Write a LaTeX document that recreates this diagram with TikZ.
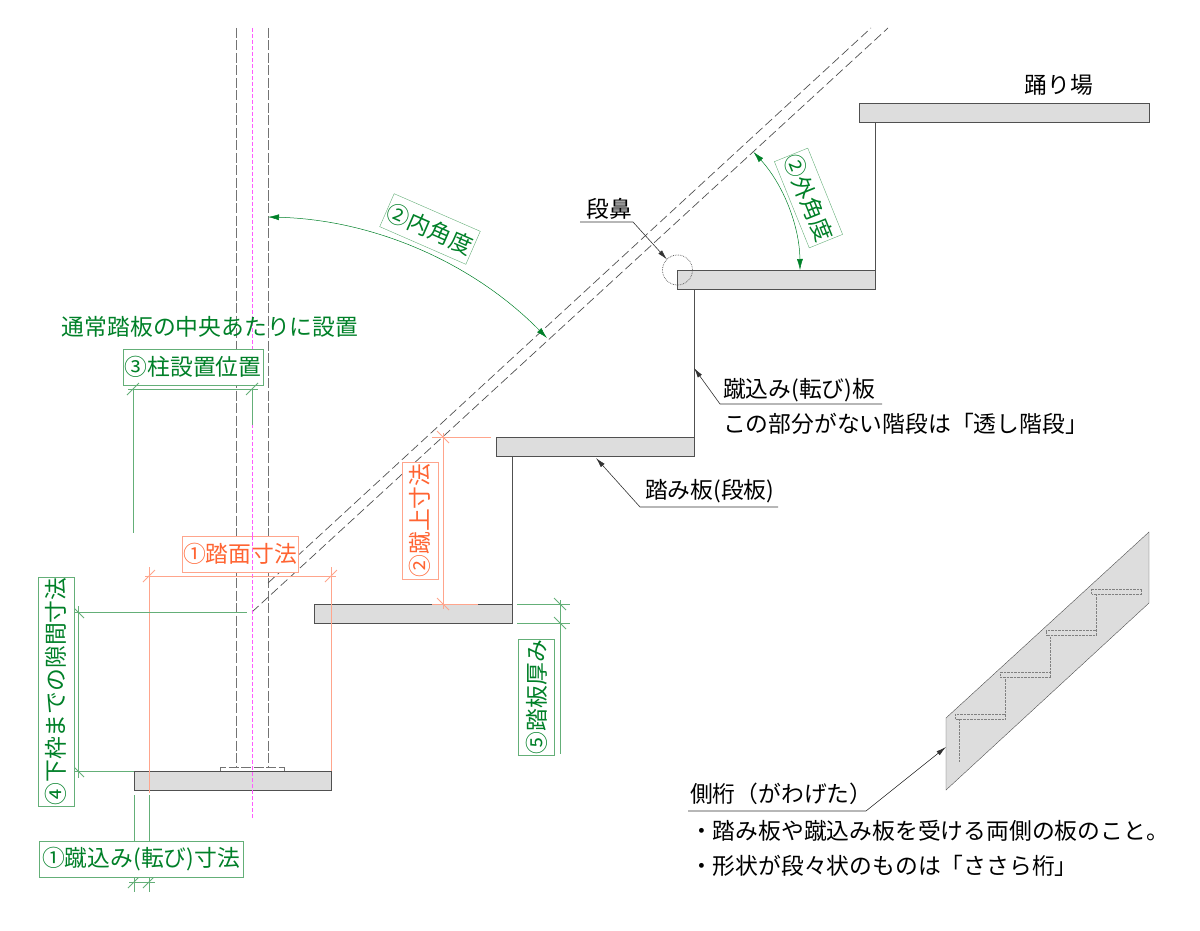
\documentclass[tikz,border=0pt]{standalone}
\usepackage{fontspec}
\setmainfont{Noto Sans CJK JP}
\usetikzlibrary{positioning}
\usetikzlibrary{arrows.meta}

\definecolor{dimgreen}{RGB}{0,128,40}
\definecolor{dimgreenln}{RGB}{100,175,120}
\definecolor{dimorange}{RGB}{255,100,50}
\definecolor{dimorangeln}{RGB}{255,165,140}
\definecolor{stairgray}{RGB}{80,80,80}
\definecolor{treadfill}{RGB}{221,221,221}
\definecolor{centerpink}{RGB}{255,90,255}

\newcommand{\slashh}[2]{\draw[#1] (#2) ++(-6,6) -- ++(12,-12);}
\newcommand{\slashv}[2]{\draw[#1] (#2) ++(-6,-6) -- ++(12,12);}

\tikzset{
	tread/.style={draw=stairgray, fill=treadfill, minimum height=19pt, anchor=north west},
	riser/.style={draw=stairgray, line width=.8pt},
	postline/.style={draw=gray!90!black, dash pattern=on 10pt off 2.5pt},
	slopeline/.style={draw=stairgray, dash pattern=on 9pt off 4pt, line width=.7pt},
	centerline/.style={draw=centerpink, dash pattern=on 4pt off 2pt},
	leader/.style={draw=black!80, line width=.6pt, -{Latex[length=10pt,width=5pt]}},
	label/.style={font=\fontsize{22.8}{24}\selectfont, inner sep=0pt},
	greenlabel/.style={label, text=dimgreen},
	greenbox/.style={greenlabel, draw=dimgreenln, fill=white, minimum height=36pt},
	orangebox/.style={label, text=dimorange, draw=dimorangeln, fill=white, minimum height=36pt},
	greendim/.style={draw=dimgreenln, line width=.9pt},
	orangedim/.style={draw=dimorangeln, line width=1pt},
	anglearrow/.style={draw=dimgreen, line width=.5pt, {Latex[length=11pt,width=6pt]}-{Latex[length=11pt,width=6pt]}},
}

\begin{document}
\begin{tikzpicture}
[   x=1pt,
    y=-1pt,
    inner sep=0pt,
    outer sep=0pt
]
\useasboundingbox (0,0) rectangle (1200,931);

% post and slope
\draw[postline] (236,28) -- (236,767);
\draw[postline] (268,28) -- (268,767);
\draw[postline] (220,771) -- (220,767) -- (284,767) -- (284,771);
\draw[slopeline] (252,612) -- (888,28);
\draw[slopeline] (268,583) -- (871,28);

% stairs
\node (tread1) [tread, minimum width=197pt] at (134,771) {};
\node (tread2) [tread, minimum width=198pt] at (314,604) {};
\node (tread3) [tread, minimum width=198pt] at (496,437) {};
\node (tread4) [tread, minimum width=198pt] at (677,270) {};
\node (landing) [tread, minimum width=290pt] at (859,103) {};
\draw[riser] (tread1.north east) -- (tread1.north east |- tread2.south);
\draw[riser] (tread2.north east) -- (tread2.north east |- tread3.south);
\draw[riser] (tread3.north east) -- (tread3.north east |- tread4.south);
\draw[riser] (tread4.north east) -- (tread4.north east |- landing.south);

% dimension lines over the stairs
\draw[centerline] (252,28) -- (252,818);
\draw[orangedim] (149,567) -- (149,793);
\draw[orangedim] (331,567) -- (331,771);

% nosing
\node (nosing) [draw=stairgray, densely dotted, line width=.7pt, circle, minimum size=30pt] at (677.5,270) {};
\node (nosingtxt) [label, anchor=center] at (609,209) {段鼻};
\coordinate (nosingbar) at (580,222);
\coordinate (nosingend) at (633,222);
\draw[leader] (nosingbar) -- (nosingend) -- (nosing.north west);

\node (landingtxt) [label] at (1059,85) {踊り場};

% riser note
\node (risertxt) [label, anchor=west] at (723,390) {蹴込み(転び)板};
\node (risernote) [label, anchor=west] at (723,424) {この部分がない階段は「透し階段」};
\coordinate (riserbar) at (720,404);
\coordinate (riserend) at (882,404);
\coordinate (risertip) at (694,368);
\draw[leader] (riserend) -- (riserbar) -- (risertip);

% tread note
\node (treadtxt) [label, anchor=west] at (645,491) {踏み板(段板)};
\coordinate (treadbar) at (640,507);
\coordinate (treadend) at (778,507);
\coordinate (treadtip) at (596,458);
\draw[leader] (treadend) -- (treadbar) -- (treadtip);

% stringer
\coordinate (strA) at (946,718);
\coordinate (strB) at (1149,532);
\coordinate (strC) at (1149,603);
\coordinate (strD) at (946,790);
\draw[fill=treadfill, draw=stairgray] (strA) -- (strB) -- (strC) -- (strD) -- cycle;
\foreach \i in {0,1,2,3}{
	\begin{scope}[shift={(45.5*\i,-41.7*\i)}]
	\draw[densely dotted, draw=gray] (955,714) rectangle (1005,719);
	\ifnum\i<3
	\draw[densely dotted, draw=gray] (1005,714) -- (1005,677.7);
	\fi
	\end{scope}
}
\draw[densely dotted, draw=gray] (959.3,719) -- (959.3,761.7);
\node (stringertxt) [label, anchor=west] at (690,794) {側桁（がわげた）};
\node (stringernote) [label, anchor=west] at (690,831) {・踏み板や蹴込み板を受ける両側の板のこと。};
\node (stringerform) [label, anchor=west] at (690,866) {・形状が段々状のものは「ささら桁」};
\coordinate (stringerbar) at (688,811);
\coordinate (stringerend) at (866,811);
\coordinate (stringertip) at (946,747);
\draw[leader] (stringerbar) -- (stringerend) -- (stringertip);

% inner and outer angle
\coordinate (innerA) at (268,217);
\coordinate (innerB) at (547,338);
\draw[anglearrow] (innerA) to[bend left=22, looseness=.89] (innerB);
\node (innerbox) [greenbox, minimum width=94pt, rotate=-23.6] at (430,229) {②内角度};
\coordinate (outerA) at (753.5,152);
\coordinate (outerB) at (800,270);
\draw[anglearrow] (outerA) to[bend left=21, looseness=.89] (outerB);
\node (outerbox) [greenbox, minimum width=93pt, rotate=-68] at (808.5,198) {②外角度};

% post position
\node (posttxt) [greenlabel] at (210,327) {通常踏板の中央あたりに設置};
\node (postbox) [greenbox, minimum width=140pt] at (193,367) {③柱設置位置};
\draw[greendim] (128,389) -- (258,389);
\draw[greendim] (133,389) -- (133,533);
\draw[greendim] (252,389) -- (252,425);
\slashh{greendim}{133,389}
\slashh{greendim}{252,389}

% gap to lower frame
\draw[greendim] (78,606) -- (78,778);
\draw[greendim] (72,612) -- (247,612);
\draw[greendim] (72,771) -- (134,771);
\slashv{greendim}{78,612}
\slashv{greendim}{78,771}
\node (gapbox) [greenbox, minimum width=229pt, rotate=90] at (56,691.5) {④下枠までの隙間寸法};

% tread depth
\draw[orangedim] (145,576) -- (336,576);
\slashh{orangedim}{149,576}
\slashh{orangedim}{331,576}
\node (depthbox) [orangebox, minimum width=116pt] at (240,554) {①踏面寸法};
\draw[centerline] (depthbox.north -| 252,0) -- (depthbox.south -| 252,0);

% riser height
\draw[orangedim] (443,433) -- (443,609);
\draw[orangedim] (432,437) -- (491,437);
\draw[orangedim] (432,604) -- (478,604);
\slashv{orangedim}{443,437}
\slashv{orangedim}{443,604}
\node (heightbox) [orangebox, minimum width=117pt, rotate=90] at (420,520.5) {②蹴上寸法};

% tread thickness
\draw[greendim] (560,600) -- (560,754);
\draw[greendim] (517,604) -- (570,604);
\draw[greendim] (517,623) -- (570,623);
\slashv{greendim}{560,604}
\slashv{greendim}{560,623}
\node (thickbox) [greenbox, minimum width=116pt, rotate=90] at (536.5,697) {⑤踏板厚み};

% nosing offset
\draw[greendim] (134,795) -- (134,892);
\draw[greendim] (149,795) -- (149,892);
\draw[greendim] (129,882) -- (155,882);
\slashh{greendim}{134,882}
\slashh{greendim}{149,882}
\node (offsetbox) [greenbox, minimum width=204pt] at (141,859.5) {①蹴込み(転び)寸法};
\end{tikzpicture}
\end{document}
